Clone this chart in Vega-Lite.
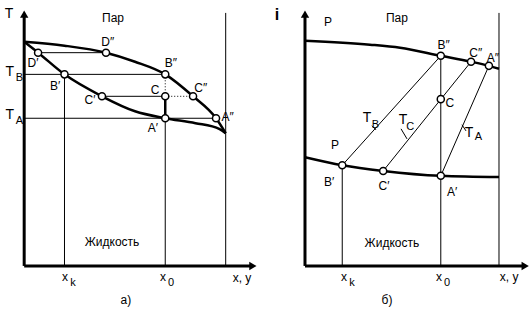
{
  "$schema": "https://vega.github.io/schema/vega-lite/v6.json",
  "padding": 0,
  "spacing": 0,
  "background": "white",
  "config": {"view": {"stroke": null}, "text": {"font": "Liberation Sans", "fontSize": 12, "color": "black"}},
  "datasets": {
    "curvesA": [
      {"c": "vapor", "x": 0, "y": 0.868}, {"c": "vapor", "x": 0.2, "y": 0.853}, {"c": "vapor", "x": 0.406, "y": 0.826},
      {"c": "vapor", "x": 0.55, "y": 0.791}, {"c": "vapor", "x": 0.7, "y": 0.742}, {"c": "vapor", "x": 0.838, "y": 0.657},
      {"c": "vapor", "x": 0.952, "y": 0.572}, {"c": "vapor", "x": 1.0, "y": 0.514},
      {"c": "liquid", "x": 0, "y": 0.868}, {"c": "liquid", "x": 0.069, "y": 0.826}, {"c": "liquid", "x": 0.2, "y": 0.742},
      {"c": "liquid", "x": 0.386, "y": 0.657}, {"c": "liquid", "x": 0.55, "y": 0.599}, {"c": "liquid", "x": 0.7, "y": 0.572},
      {"c": "liquid", "x": 0.85, "y": 0.553}, {"c": "liquid", "x": 0.97, "y": 0.53}, {"c": "liquid", "x": 1.0, "y": 0.514}
    ],
    "thinA": [
      {"x": 0.069, "y": 0.826, "x2": 0.406, "y2": 0.826},
      {"x": 0, "y": 0.742, "x2": 0.7, "y2": 0.742},
      {"x": 0.386, "y": 0.657, "x2": 0.7, "y2": 0.657},
      {"x": 0, "y": 0.572, "x2": 0.952, "y2": 0.572},
      {"x": 0.2, "y": 0, "x2": 0.2, "y2": 0.742},
      {"x": 0.7, "y": 0, "x2": 0.7, "y2": 0.572},
      {"x": 1.0, "y": 0, "x2": 1.0, "y2": 0.98}
    ],
    "dottedA": [
      {"x": 0.7, "y": 0.657, "x2": 0.7, "y2": 0.742},
      {"x": 0.7, "y": 0.657, "x2": 0.838, "y2": 0.657}
    ],
    "thickA": [
      {"x": 0.7, "y": 0.572, "x2": 0.7, "y2": 0.657}
    ],
    "axesA": [
      {"x": 0, "y": 0, "x2": 0, "y2": 0.975},
      {"x": 0, "y": 0, "x2": 1.13, "y2": 0}
    ],
    "arrowUpA": [{"x": 0, "y": 0.975}],
    "arrowRightA": [{"x": 1.135, "y": 0}],
    "pointsA": [
      {"p": "D'", "x": 0.069, "y": 0.826}, {"p": "D''", "x": 0.406, "y": 0.826},
      {"p": "B'", "x": 0.2, "y": 0.742}, {"p": "B''", "x": 0.7, "y": 0.742},
      {"p": "C'", "x": 0.386, "y": 0.657}, {"p": "C", "x": 0.7, "y": 0.657}, {"p": "C''", "x": 0.838, "y": 0.657},
      {"p": "A'", "x": 0.7, "y": 0.572}, {"p": "A''", "x": 0.952, "y": 0.572}
    ],
    "bigA": [
      {"t": "T", "x": -0.075, "y": 0.977},
      {"t": "T", "x": -0.072, "y": 0.752},
      {"t": "T", "x": -0.072, "y": 0.585}
    ],
    "labelsA": [
      {"t": "Пар", "x": 0.441, "y": 0.961},
      {"t": "D″", "x": 0.415, "y": 0.868},
      {"t": "D′", "x": 0.044, "y": 0.787},
      {"t": "B″", "x": 0.728, "y": 0.787},
      {"t": "B′", "x": 0.153, "y": 0.698},
      {"t": "C", "x": 0.649, "y": 0.682},
      {"t": "C″", "x": 0.876, "y": 0.69},
      {"t": "C′", "x": 0.327, "y": 0.643},
      {"t": "A″", "x": 1.01, "y": 0.578},
      {"t": "A′", "x": 0.639, "y": 0.535},
      {"t": "Жидкость", "x": 0.436, "y": 0.093},
      {"t": "x", "x": 0.202, "y": -0.043},
      {"t": "x", "x": 0.689, "y": -0.043},
      {"t": "x, y", "x": 1.081, "y": -0.047},
      {"t": "а)", "x": 0.505, "y": -0.132}
    ],
    "subsA": [
      {"t": "B", "x": -0.024, "y": 0.727},
      {"t": "A", "x": -0.024, "y": 0.56},
      {"t": "k", "x": 0.242, "y": -0.066},
      {"t": "0", "x": 0.729, "y": -0.066}
    ],
    "curvesB": [
      {"c": "vapor", "x": 0, "y": 0.872}, {"c": "vapor", "x": 0.335, "y": 0.857}, {"c": "vapor", "x": 0.49, "y": 0.845},
      {"c": "vapor", "x": 0.7, "y": 0.814}, {"c": "vapor", "x": 0.856, "y": 0.791}, {"c": "vapor", "x": 0.948, "y": 0.775},
      {"c": "vapor", "x": 1.0, "y": 0.764},
      {"c": "liquid", "x": 0, "y": 0.421}, {"c": "liquid", "x": 0.192, "y": 0.39}, {"c": "liquid", "x": 0.403, "y": 0.368},
      {"c": "liquid", "x": 0.7, "y": 0.349}, {"c": "liquid", "x": 1.0, "y": 0.344}
    ],
    "thinB": [
      {"x": 0.192, "y": 0.39, "x2": 0.7, "y2": 0.814},
      {"x": 0.403, "y": 0.368, "x2": 0.856, "y2": 0.791},
      {"x": 0.7, "y": 0.349, "x2": 0.948, "y2": 0.775},
      {"x": 0.192, "y": 0, "x2": 0.192, "y2": 0.39},
      {"x": 0.7, "y": 0, "x2": 0.7, "y2": 0.814},
      {"x": 1.0, "y": 0, "x2": 1.0, "y2": 0.98},
      {"x": 0.345, "y": 0.543, "x2": 0.366, "y2": 0.527},
      {"x": 0.495, "y": 0.531, "x2": 0.526, "y2": 0.492},
      {"x": 0.809, "y": 0.547, "x2": 0.83, "y2": 0.523}
    ],
    "axesB": [
      {"x": 0, "y": 0, "x2": 0, "y2": 0.975},
      {"x": 0, "y": 0, "x2": 1.13, "y2": 0}
    ],
    "arrowUpB": [{"x": 0, "y": 0.975}],
    "arrowRightB": [{"x": 1.135, "y": 0}],
    "pointsB": [
      {"p": "B'", "x": 0.192, "y": 0.39}, {"p": "B''", "x": 0.7, "y": 0.814},
      {"p": "C'", "x": 0.403, "y": 0.368}, {"p": "C", "x": 0.7, "y": 0.646}, {"p": "C''", "x": 0.856, "y": 0.791},
      {"p": "A'", "x": 0.7, "y": 0.349}, {"p": "A''", "x": 0.948, "y": 0.775}
    ],
    "bigB": [
      {"t": "T", "x": 0.32, "y": 0.574},
      {"t": "T", "x": 0.505, "y": 0.566},
      {"t": "T", "x": 0.845, "y": 0.516}
    ],
    "labelsB": [
      {"t": "P", "x": 0.119, "y": 0.946},
      {"t": "Пар", "x": 0.474, "y": 0.961},
      {"t": "P", "x": 0.155, "y": 0.469},
      {"t": "B″", "x": 0.715, "y": 0.857},
      {"t": "C″", "x": 0.88, "y": 0.826},
      {"t": "A″", "x": 0.968, "y": 0.806},
      {"t": "C", "x": 0.747, "y": 0.632},
      {"t": "B′", "x": 0.124, "y": 0.326},
      {"t": "C′", "x": 0.407, "y": 0.31},
      {"t": "A′", "x": 0.758, "y": 0.287},
      {"t": "Жидкость", "x": 0.448, "y": 0.089},
      {"t": "x", "x": 0.201, "y": -0.043},
      {"t": "x", "x": 0.691, "y": -0.043},
      {"t": "x, y", "x": 1.052, "y": -0.043},
      {"t": "б)", "x": 0.423, "y": -0.132}
    ],
    "subsB": [
      {"t": "B", "x": 0.363, "y": 0.547},
      {"t": "C", "x": 0.543, "y": 0.539},
      {"t": "A", "x": 0.894, "y": 0.5},
      {"t": "k", "x": 0.242, "y": -0.066},
      {"t": "0", "x": 0.732, "y": -0.066}
    ],
    "boldB": [{"t": "i", "x": -0.144, "y": 0.973}]
  },
  "hconcat": [
    {
      "width": 266,
      "height": 315,
      "encoding": {
        "x": {"field": "x", "type": "quantitative", "scale": {"domain": [-0.12, 1.2], "nice": false, "zero": false}, "axis": null},
        "y": {"field": "y", "type": "quantitative", "scale": {"domain": [-0.19, 1.03], "nice": false, "zero": false}, "axis": null}
      },
      "layer": [
        {"data": {"name": "curvesA"}, "mark": {"type": "line", "color": "black", "strokeWidth": 2.5, "interpolate": "monotone"}, "encoding": {"detail": {"field": "c"}}},
        {"data": {"name": "thinA"}, "mark": {"type": "rule", "color": "black", "strokeWidth": 1}, "encoding": {"x2": {"field": "x2"}, "y2": {"field": "y2"}}},
        {"data": {"name": "dottedA"}, "mark": {"type": "rule", "color": "black", "strokeWidth": 1, "strokeDash": [1, 2]}, "encoding": {"x2": {"field": "x2"}, "y2": {"field": "y2"}}},
        {"data": {"name": "thickA"}, "mark": {"type": "rule", "color": "black", "strokeWidth": 2.5}, "encoding": {"x2": {"field": "x2"}, "y2": {"field": "y2"}}},
        {"data": {"name": "axesA"}, "mark": {"type": "rule", "color": "black", "strokeWidth": 3}, "encoding": {"x2": {"field": "x2"}, "y2": {"field": "y2"}}},
        {"data": {"name": "arrowUpA"}, "mark": {"type": "point", "shape": "triangle-up", "filled": true, "color": "black", "size": 70, "opacity": 1}},
        {"data": {"name": "arrowRightA"}, "mark": {"type": "point", "shape": "triangle-right", "filled": true, "color": "black", "size": 70, "opacity": 1}},
        {"data": {"name": "pointsA"}, "mark": {"type": "point", "shape": "circle", "filled": true, "fill": "white", "stroke": "black", "strokeWidth": 1.5, "size": 50, "opacity": 1}},
        {"data": {"name": "bigA"}, "mark": {"type": "text", "fontSize": 14}, "encoding": {"text": {"field": "t"}}},
        {"data": {"name": "labelsA"}, "mark": {"type": "text", "fontSize": 12}, "encoding": {"text": {"field": "t"}}},
        {"data": {"name": "subsA"}, "mark": {"type": "text", "fontSize": 11}, "encoding": {"text": {"field": "t"}}}
      ]
    },
    {
      "width": 265,
      "height": 315,
      "encoding": {
        "x": {"field": "x", "type": "quantitative", "scale": {"domain": [-0.201, 1.165], "nice": false, "zero": false}, "axis": null},
        "y": {"field": "y", "type": "quantitative", "scale": {"domain": [-0.19, 1.03], "nice": false, "zero": false}, "axis": null}
      },
      "layer": [
        {"data": {"name": "curvesB"}, "mark": {"type": "line", "color": "black", "strokeWidth": 2.5, "interpolate": "monotone"}, "encoding": {"detail": {"field": "c"}}},
        {"data": {"name": "thinB"}, "mark": {"type": "rule", "color": "black", "strokeWidth": 1}, "encoding": {"x2": {"field": "x2"}, "y2": {"field": "y2"}}},
        {"data": {"name": "axesB"}, "mark": {"type": "rule", "color": "black", "strokeWidth": 3}, "encoding": {"x2": {"field": "x2"}, "y2": {"field": "y2"}}},
        {"data": {"name": "arrowUpB"}, "mark": {"type": "point", "shape": "triangle-up", "filled": true, "color": "black", "size": 70, "opacity": 1}},
        {"data": {"name": "arrowRightB"}, "mark": {"type": "point", "shape": "triangle-right", "filled": true, "color": "black", "size": 70, "opacity": 1}},
        {"data": {"name": "pointsB"}, "mark": {"type": "point", "shape": "circle", "filled": true, "fill": "white", "stroke": "black", "strokeWidth": 1.5, "size": 50, "opacity": 1}},
        {"data": {"name": "bigB"}, "mark": {"type": "text", "fontSize": 14}, "encoding": {"text": {"field": "t"}}},
        {"data": {"name": "labelsB"}, "mark": {"type": "text", "fontSize": 12}, "encoding": {"text": {"field": "t"}}},
        {"data": {"name": "subsB"}, "mark": {"type": "text", "fontSize": 11}, "encoding": {"text": {"field": "t"}}},
        {"data": {"name": "boldB"}, "mark": {"type": "text", "fontSize": 16, "fontWeight": "bold"}, "encoding": {"text": {"field": "t"}}}
      ]
    }
  ]
}
